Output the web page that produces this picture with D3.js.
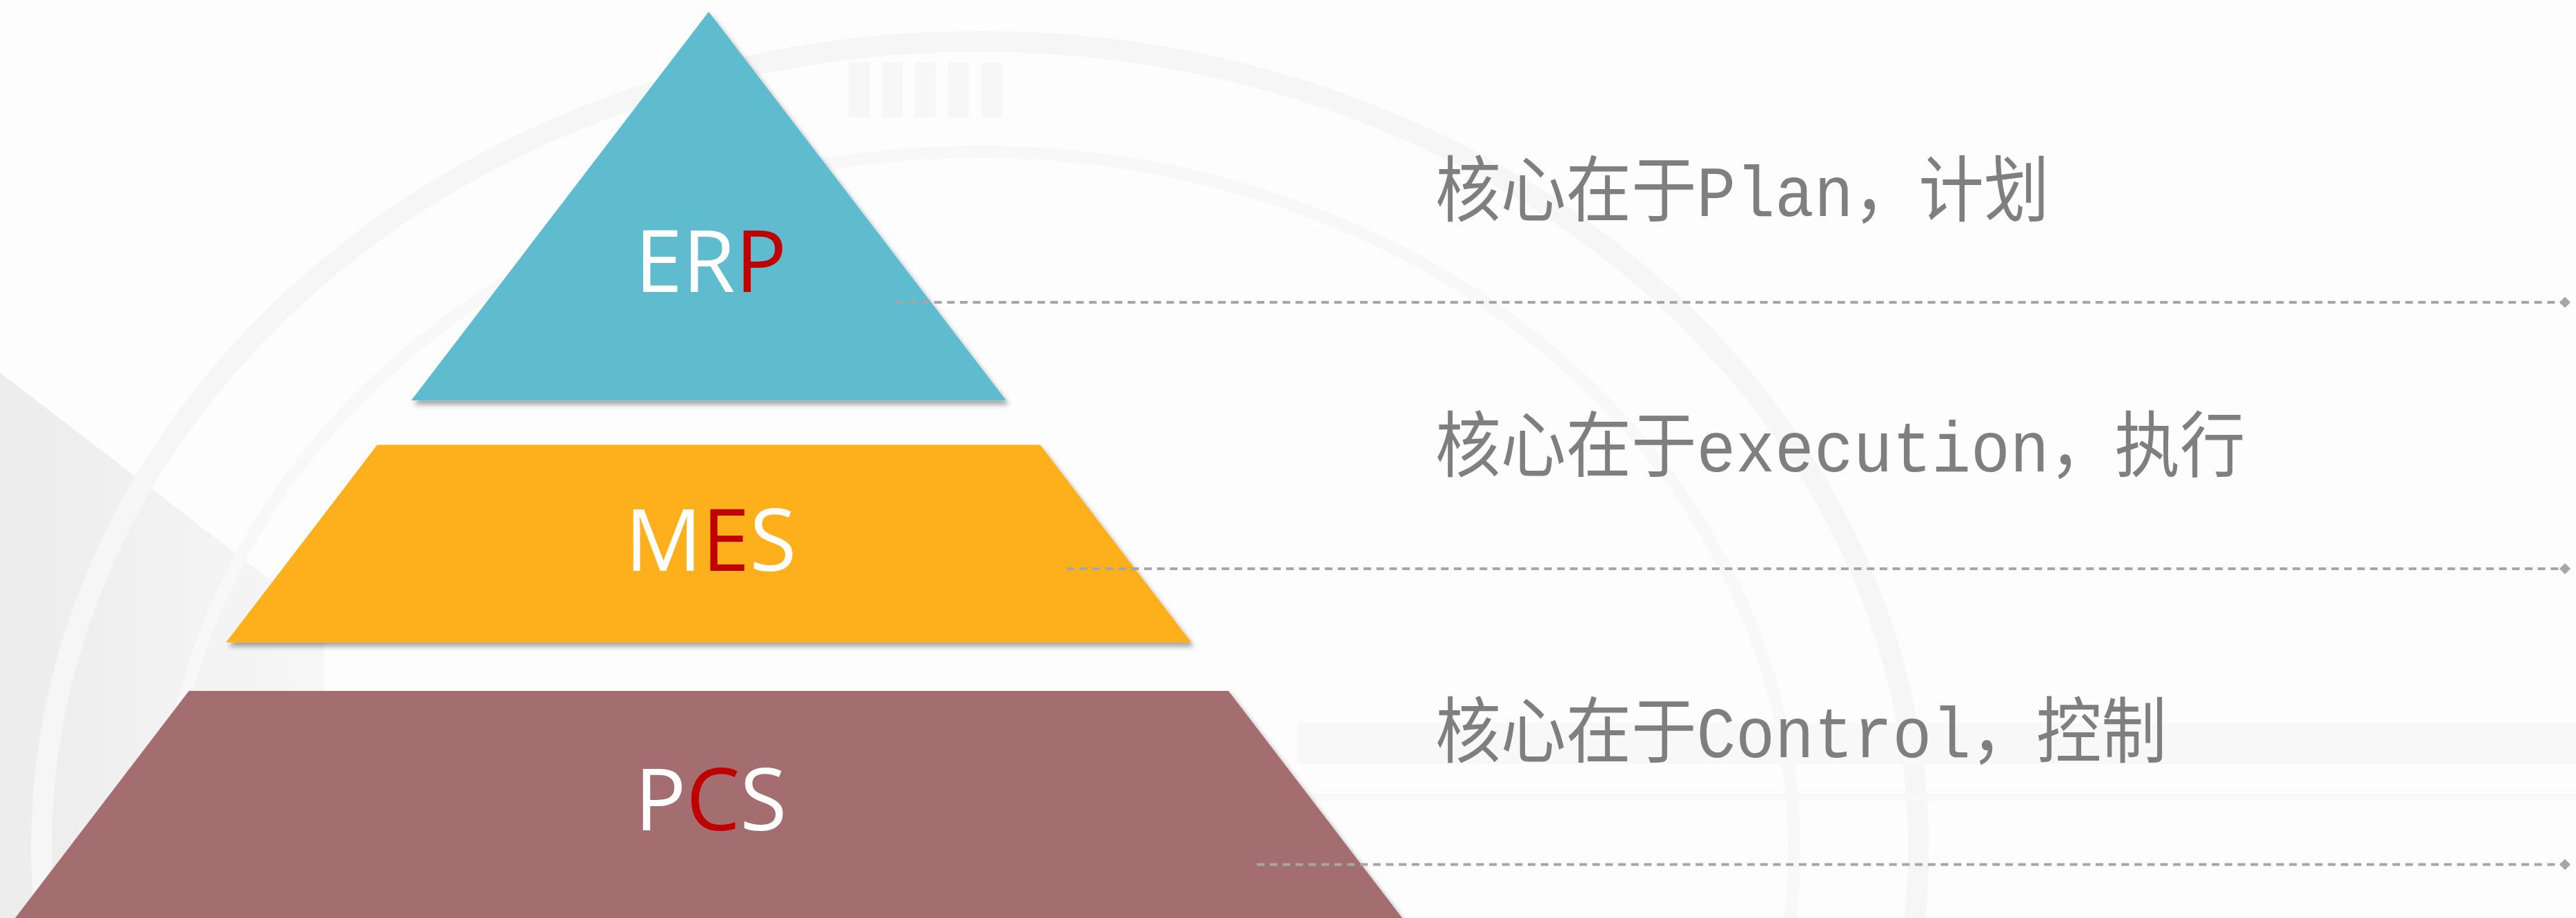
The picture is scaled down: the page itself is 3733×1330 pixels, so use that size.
<!DOCTYPE html>
<html>
<head>
<meta charset="utf-8">
<script src="https://cdn.jsdelivr.net/npm/d3@7/dist/d3.min.js"></script>
<style>
  html, body { margin: 0; padding: 0; background: #ffffff; }
  svg { display: block; }
</style>
</head>
<body>
<div id="chart"></div>
<script>
// pyramid levels, top to bottom
const layerNames = ["ERP", "MES", "PCS"];
const redLetter = [2, 1, 1];            // which letter of the name is red
const layerColors = ["#5FBBCE", "#FDB01F", "#A46E6F"];
const captions = ["核心在于Plan，计划", "核心在于execution，执行", "核心在于Control，控制"];

const W = 3733, H = 1330;

// pyramid space: t = 0 at apex, 1 at base; u = -1..1 across the base
const x = d3.scaleLinear().domain([-1, 1]).range([1027 - 1005, 1027 + 1005]);
const y = d3.scaleLinear().domain([0, 1]).range([17, 1330]);

// layout (pyramid units)
const bands = [[0, 0.429], [0.478, 0.696], [0.7495, 1]];
const connectorT = [0.3206, 0.6146, 0.941];
const captionT = [0.2254, 0.5072, 0.8225];
const lineEndX = 3717, captionX = 2080;

let svg = d3.select('#chart').append('svg')
    .attr('width', W)
    .attr('height', H);

let defs = svg.append('defs');
defs.append('filter')
    .attr('id', 'shadow')
    .attr('x', '-5%').attr('y', '-5%')
    .attr('width', '115%').attr('height', '115%')
  .append('feDropShadow')
    .attr('dx', 4).attr('dy', 6)
    .attr('stdDeviation', 3.5)
    .attr('flood-color', '#000')
    .attr('flood-opacity', 0.35);

let fade = defs.append('linearGradient')
    .attr('id', 'fade')
    .attr('x1', 0).attr('y1', 0).attr('x2', 1).attr('y2', 0);
fade.append('stop').attr('offset', 0).attr('stop-color', '#ececec');
fade.append('stop').attr('offset', 1).attr('stop-color', '#f7f7f7');

// faint background decoration
let bg = svg.append('g');
bg.append('rect').attr('width', W).attr('height', H).attr('fill', '#fdfdfd');
bg.append('polygon')
    .attr('points', '0,540 470,900 470,1330 0,1330')
    .attr('fill', 'url(#fade)');
bg.append('ellipse')
    .attr('cx', 1420).attr('cy', 1230).attr('rx', 1360).attr('ry', 1170)
    .attr('fill', 'none').attr('stroke', '#f6f6f6').attr('stroke-width', 30);
bg.append('ellipse')
    .attr('cx', 1420).attr('cy', 1230).attr('rx', 1180).attr('ry', 1010)
    .attr('fill', 'none').attr('stroke', '#f8f8f8').attr('stroke-width', 18);
bg.selectAll('.bar').data([0, 1, 2, 3, 4])
  .enter().append('rect')
    .attr('x', d => 1230 + d * 48).attr('y', 90)
    .attr('width', 30).attr('height', 80)
    .attr('fill', '#f7f7f7');
bg.append('rect').attr('x', 1880).attr('y', 1047).attr('width', W - 1880).attr('height', 60).attr('fill', '#f8f8f8');
bg.append('rect').attr('x', 1880).attr('y', 1150).attr('width', W - 1880).attr('height', 10).attr('fill', '#f8f8f8');

// pyramid layers
let layers = svg.append('g');
layerNames.forEach((name, i) => {
  const [a, b] = bands[i];
  const pts = [[-a, a], [a, a], [b, b], [-b, b]].map(p => [x(p[0]), y(p[1])]);
  layers.append('polygon')
      .attr('points', pts.map(p => p.join(',')).join(' '))
      .attr('fill', layerColors[i])
      .attr('filter', 'url(#shadow)');

  const c = d3.polygonCentroid(pts);
  let t = layers.append('text')
      .attr('x', 1030)
      .attr('y', c[1] + 30)
      .attr('text-anchor', 'middle')
      .attr('font-family', '"Open Sans", "Noto Sans", sans-serif')
      .attr('font-size', 124)
      .attr('fill', '#ffffff');
  name.split('').forEach((ch, k) => {
    t.append('tspan').text(ch).attr('fill', k === redLetter[i] ? '#C00000' : '#ffffff');
  });
});

// dashed connectors with diamond ends
let conn = svg.append('g');
connectorT.forEach((tc, i) => {
  const yy = y(tc);
  conn.append('line')
      .attr('x1', x(0.84 * tc)).attr('x2', lineEndX - 6)
      .attr('y1', yy).attr('y2', yy)
      .attr('stroke', '#a6a6a6')
      .attr('stroke-width', 4)
      .attr('stroke-dasharray', '11 7.7');
  conn.append('path')
      .attr('d', d3.symbol(d3.symbolSquare, 128)())
      .attr('transform', `translate(${lineEndX},${yy}) rotate(45)`)
      .attr('fill', '#a6a6a6');
});

// captions
svg.append('g').selectAll('text')
  .data(captions)
  .enter().append('text')
    .attr('transform', (d, i) => `translate(${captionX},${y(captionT[i])}) scale(0.91,1)`)
    .attr('font-family', '"Liberation Mono", "Noto Sans CJK SC", monospace')
    .attr('font-size', 104)
    .attr('fill', '#7f7f7f')
    .text(d => d);
</script>
</body>
</html>
